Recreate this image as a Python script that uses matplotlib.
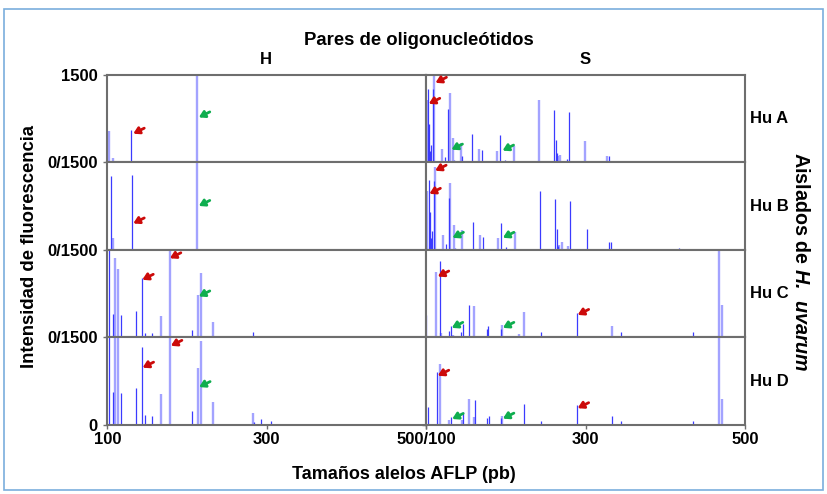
import matplotlib
matplotlib.use("Agg")
import matplotlib.pyplot as plt
from matplotlib.patches import Rectangle

plt.rcParams['font.family'] = ['Liberation Sans', 'DejaVu Sans']
plt.rcParams['font.weight'] = 'bold'
plt.rcParams['mathtext.fontset'] = 'custom'
plt.rcParams['mathtext.bfit'] = 'Liberation Sans:italic:bold'

# peaks as (size in bp, fluorescence); two overlaid traces per panel (dark / light)
isolates = ['Hu A', 'Hu B', 'Hu C', 'Hu D']
primers = ['H', 'S']

# --- primer pair H ---
hA_dark = [(130, 552)]
hA_light = [(102.5, 540), (106.8, 75), (212, 1500)]
hB_dark = [(104.2, 1274), (131, 1290)]
hB_light = [(106.7, 198), (212, 1500)]
hC_dark = [(102.1, 1500), (107.5, 399), (116.8, 388), (136.3, 456), (143.9, 1015), (147.6, 74),
           (155.6, 74), (206.5, 131), (282.9, 91), (293.4, 34)]
hC_light = [(109.6, 1368), (113.8, 1174), (167.6, 370), (178.1, 1500), (214, 730), (218.2, 1111),
            (232.4, 262), (305, 11)]
hD_dark = [(102.1, 1500), (107.5, 563), (116.8, 552), (136.3, 638), (143.9, 1340), (147.6, 178),
           (155.6, 161), (206.5, 236), (283.5, 46), (293.4, 104), (306, 75)]
hD_light = [(109.6, 1500), (113.8, 1500), (167.6, 535), (178.1, 1500), (214, 983), (218.2, 1443),
            (232.4, 397), (282.9, 207)]

# --- primer pair S ---
sA_dark = [(102.5, 1256), (104, 657), (105, 190), (106.3, 308), (108.7, 1256), (123.6, 87),
           (127.7, 918), (145, 105), (157, 494), (170, 209), (192.8, 471), (198.6, 35), (260, 901),
           (262.5, 378), (264.2, 163), (276.8, 52), (279.4, 872), (330, 105)]
sA_light = [(101.5, 1064), (110, 1500), (120.3, 238), (129.4, 1192), (133.6, 424), (135, 46),
            (143.8, 337), (166, 238), (188.6, 192), (210.3, 290), (241.6, 1064), (266, 105),
            (268.5, 122), (299.4, 366), (327.4, 105), (414.4, 17)]
sB_dark = [(103.3, 1206), (104.5, 651), (105.8, 198), (107, 323), (109.5, 1189), (124.5, 102),
           (128.7, 889), (158.8, 481), (171, 226), (194, 470), (199.9, 45), (243.5, 1019),
           (261.6, 866), (264, 368), (265.7, 68), (281, 838), (302, 357), (329.6, 130), (332, 130),
           (416.7, 28)]
sB_light = [(101.6, 1019), (110.7, 1426), (121.2, 255), (130.4, 1143), (134.6, 425), (136, 40),
            (145, 340), (167.2, 255), (189.8, 209), (212, 300), (267.3, 85), (270, 141), (278.5, 68)]
sC_dark = [(100.4, 388), (117.6, 1311), (128.4, 103), (130.9, 200), (143.5, 91), (146, 234),
           (153.5, 559), (176.6, 148), (177.9, 200), (194.2, 143), (208.9, 17), (244, 91), (254, 28),
           (289.3, 428), (344.6, 86), (435, 91)]
sC_light = [(112.6, 1129), (118.4, 74), (133.5, 46), (160.3, 542), (195.5, 217), (214.3, 34),
            (216.4, 57), (222.3, 445), (332.9, 200), (467, 1500), (470.7, 559)]
sD_dark = [(102, 306), (113.3, 912), (130.9, 144), (134.7, 12), (146, 231), (161, 433), (176.6, 115),
           (179.2, 156), (194.2, 115), (214.3, 17), (217.2, 17), (223.1, 358), (244, 69), (254, 12),
           (289.3, 346), (333.3, 156), (344.6, 69), (435, 69)]
sD_light = [(117.6, 1050), (129.3, 87), (145.2, 87), (154.4, 444), (160.3, 144), (195.5, 156),
            (467, 1500), (470.7, 450)]

# arrow tips (bp, fluorescence)
hA_red, hA_green = [(132.6, 494)], [(214.8, 773)]
hB_red, hB_green = [(132.6, 455)], [(214.8, 755)]
hC_red, hC_green = [(143.9, 989), (178.5, 1358)], [(214.8, 704)]
hD_red, hD_green = [(144.3, 983), (179.8, 1357)], [(215.2, 650)]
sA_red, sA_green = [(111.7, 1366), (103.3, 1006)], [(131.8, 221), (195.9, 204)]
sB_red, sB_green = [(111.3, 1359), (104.1, 963)], [(133, 209), (196.3, 209)]
sC_red, sC_green = [(114.6, 1045), (290.1, 387)], [(132.2, 165), (196.3, 165)]
sD_red, sD_green = [(114.6, 845), (290.1, 288)], [(132.7, 103), (196.3, 109)]

panels = [
    [(hA_dark, hA_light, hA_red, hA_green), (sA_dark, sA_light, sA_red, sA_green)],
    [(hB_dark, hB_light, hB_red, hB_green), (sB_dark, sB_light, sB_red, sB_green)],
    [(hC_dark, hC_light, hC_red, hC_green), (sC_dark, sC_light, sC_red, sC_green)],
    [(hD_dark, hD_light, hD_red, hD_green), (sD_dark, sD_light, sD_red, sD_green)],
]

fig = plt.figure(figsize=(8.27, 4.94), dpi=100)
axes = fig.subplots(4, 2, gridspec_kw=dict(left=0.1297, right=0.9008, top=0.8482, bottom=0.1397,
                                           wspace=0, hspace=0))

for r in range(4):
    for c in range(2):
        ax = axes[r, c]
        dark, light, red, green = panels[r][c]
        ax.vlines([p[0] for p in light], 0, [p[1] for p in light], color='#a3a3ff', lw=1.7)
        ax.vlines([p[0] for p in dark], 0, [p[1] for p in dark], color='#3b3bff', lw=0.9)
        for tips, col in ((red, '#cc0a0a'), (green, '#0fae4f')):
            for x, y in tips:
                ax.annotate('', xy=(x, y), xytext=(11, 5.5), textcoords='offset pixels',
                            arrowprops=dict(arrowstyle='-|>,head_length=0.5,head_width=0.3',
                                            color=col, lw=2.0, shrinkA=0, shrinkB=0,
                                            mutation_scale=7))
        ax.set_xlim(100, 500)
        ax.set_ylim(0, 1500)
        for s in ax.spines.values():
            s.set_color('#6e6e6e')
            s.set_linewidth(1.5)
        ax.tick_params(direction='out', length=3, width=1, color='#6e6e6e', labelsize=12, pad=2)
        ax.tick_params(axis='y', pad=4)
        if c == 0:
            if r == 0:
                ax.set_yticks([0, 1500], ['0/1500', '1500'])
            elif r < 3:
                ax.set_yticks([0], ['0/1500'])
            else:
                ax.set_yticks([0], ['0'])
        else:
            ax.set_yticks([0], [''])
        if r == 3:
            if c == 0:
                ax.set_xticks([100, 300, 500], ['100', '300', '500/100'])
            else:
                ax.set_xticks([100, 300, 500], ['', '300', '500'])
        else:
            ax.set_xticks([])
    fig.text(0.907, 1 - (118 + 88 * r) / 494, isolates[r], fontsize=12, fontweight='bold', va='center')

fig.text(0.507, 0.919, 'Pares de oligonucleótidos', ha='center', va='center', fontsize=13.3, fontweight='bold')
fig.text(0.322, 0.879, primers[0], ha='center', va='center', fontsize=12, fontweight='bold')
fig.text(0.708, 0.879, primers[1], ha='center', va='center', fontsize=12, fontweight='bold')
fig.text(0.036, 0.5, 'Intensidad de fluorescencia', rotation=90, ha='center', va='center',
         fontsize=13.3, fontweight='bold')
fig.text(0.968, 0.47, r'Aislados de $\mathbfit{H.\ uvarum}$', rotation=-90, ha='center', va='center',
         fontsize=14.2, fontweight='bold')
fig.text(0.488, 0.04, 'Tamaños alelos AFLP (pb)', ha='center', va='center', fontsize=13, fontweight='bold')

fig.patches.append(Rectangle((0.005, 0.008), 0.99, 0.974, transform=fig.transFigure, fill=False,
                             edgecolor='#7aaedd', lw=1.2))

fig.savefig('out.png', dpi=100)
